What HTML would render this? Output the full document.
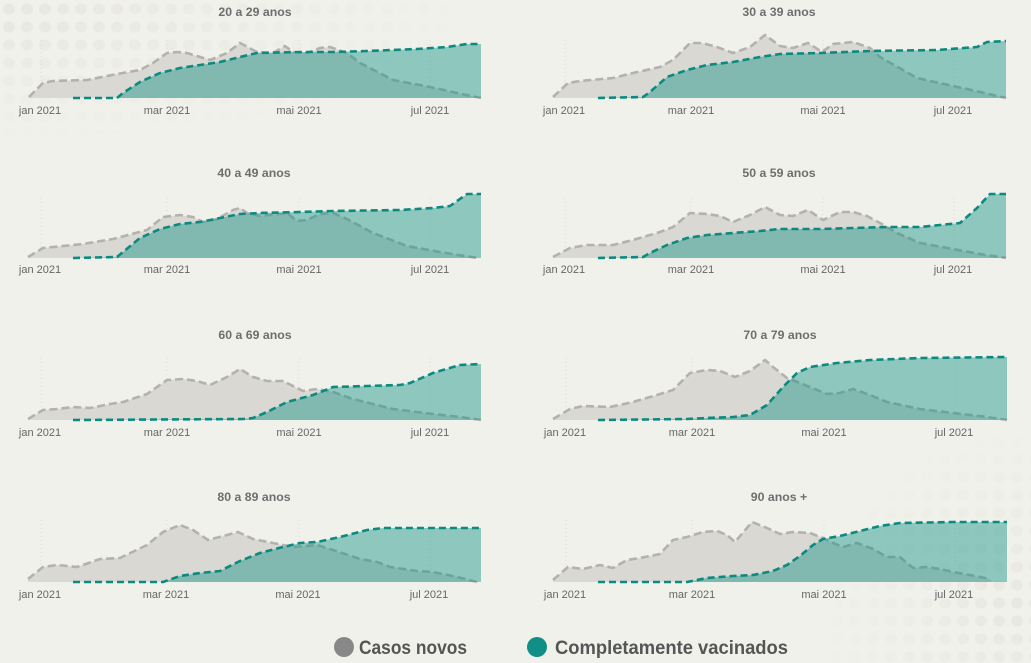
<!DOCTYPE html>
<html><head><meta charset="utf-8"><style>
html,body{margin:0;padding:0;background:#f1f1eb;}
svg{display:block;}
.t{font-family:"Liberation Sans",sans-serif;font-weight:bold;font-size:12.3px;fill:#6e6e6e;text-anchor:middle;}
.k{font-family:"Liberation Sans",sans-serif;font-size:11px;fill:#666;text-anchor:middle;}
.ga{fill:#d9d8d3;stroke:none;}
.gl{fill:none;stroke:#b3b2ae;stroke-width:2.6;stroke-dasharray:8 4;stroke-linejoin:round;}
.ta{fill:rgba(17,145,132,0.44);stroke:none;}
.tl{fill:none;stroke:#0b8a80;stroke-width:2.6;stroke-dasharray:7 4;stroke-linejoin:round;}
.gr{stroke:#dcdcd6;stroke-width:1;stroke-dasharray:1 3;}
.lg{font-family:"Liberation Sans",sans-serif;font-weight:bold;font-size:19px;fill:#555;}
</style></head><body>
<svg width="1031" height="663" viewBox="0 0 1031 663" xmlns="http://www.w3.org/2000/svg">
<defs>
<pattern id="dots" width="18" height="18" patternUnits="userSpaceOnUse">
<ellipse cx="9" cy="9" rx="6" ry="5.5" fill="#e5e5dd"/>
</pattern>
<radialGradient id="fadeTL" cx="0" cy="0" r="1" gradientUnits="userSpaceOnUse" gradientTransform="translate(0 15) scale(470 125)">
<stop offset="0" stop-color="#fff" stop-opacity="0.8"/>
<stop offset="0.5" stop-color="#fff" stop-opacity="0.35"/>
<stop offset="1" stop-color="#fff" stop-opacity="0"/>
</radialGradient>
<radialGradient id="fadeBR" cx="0" cy="0" r="1" gradientUnits="userSpaceOnUse" gradientTransform="translate(1031 610) scale(210 180)">
<stop offset="0" stop-color="#fff" stop-opacity="0.8"/>
<stop offset="0.5" stop-color="#fff" stop-opacity="0.35"/>
<stop offset="1" stop-color="#fff" stop-opacity="0"/>
</radialGradient>
<mask id="mTL"><rect width="1031" height="663" fill="url(#fadeTL)"/></mask>
<mask id="mBR"><rect width="1031" height="663" fill="url(#fadeBR)"/></mask>
</defs>
<rect width="1031" height="663" fill="#f1f1eb"/>
<rect width="1031" height="663" fill="url(#dots)" mask="url(#mTL)"/>
<rect width="1031" height="663" fill="url(#dots)" mask="url(#mBR)"/>

<!-- Chart 1: 20 a 29 -->
<g>
<line class="gr" x1="41" y1="40" x2="41" y2="98"/><line class="gr" x1="167" y1="40" x2="167" y2="98"/><line class="gr" x1="299" y1="40" x2="299" y2="98"/><line class="gr" x1="430" y1="40" x2="430" y2="98"/>
<polygon class="ga" points="29,98 29,97 43,83 53,81 87,80 117,74 140,70 153,63 167,53 177,52 187,53 210,60 227,53 240,43 257,52 273,53 285,46 293,52 307,53 320,48 330,47 347,53 360,63 393,80 430,87 457,93 481,98"/>
<polyline class="gl" points="29,97 43,83 53,81 87,80 117,74 140,70 153,63 167,53 177,52 187,53 210,60 227,53 240,43 257,52 273,53 285,46 293,52 307,53 320,48 330,47 347,53 360,63 393,80 430,87 457,93 481,98"/>
<polygon class="ta" points="73,98 117,98 123,93 140,82 160,73 180,68 200,65 220,62 240,57 257,53 300,52 333,52 367,51 417,49 447,47 467,44 481,44 481,98"/>
<polyline class="tl" points="73,98 117,98 123,93 140,82 160,73 180,68 200,65 220,62 240,57 257,53 300,52 333,52 367,51 417,49 447,47 467,44 481,44"/>
<text class="t" x="255" y="16">20 a 29 anos</text>
<text class="k" x="40" y="114">jan 2021</text><text class="k" x="167" y="114">mar 2021</text><text class="k" x="299" y="114">mai 2021</text><text class="k" x="430" y="114">jul 2021</text>
</g>

<!-- Chart 2: 30 a 39 -->
<g>
<line class="gr" x1="565" y1="40" x2="565" y2="98"/><line class="gr" x1="691" y1="40" x2="691" y2="98"/><line class="gr" x1="823" y1="40" x2="823" y2="98"/><line class="gr" x1="954" y1="40" x2="954" y2="98"/>
<polygon class="ga" points="553,98 553,97 568,83 580,81 613,78 633,73 660,67 673,60 690,43 702,43 717,47 733,53 750,47 765,35 780,46 793,48 808,43 822,52 833,44 853,42 870,48 880,57 917,78 953,86 980,92 1006,98"/>
<polyline class="gl" points="553,97 568,83 580,81 613,78 633,73 660,67 673,60 690,43 702,43 717,47 733,53 750,47 765,35 780,46 793,48 808,43 822,52 833,44 853,42 870,48 880,57 917,78 953,86 980,92 1006,98"/>
<polygon class="ta" points="598,98 643,97 650,92 667,77 687,70 707,65 733,62 760,57 780,54 820,53 870,51 937,50 977,47 987,42 1006,41 1006,98"/>
<polyline class="tl" points="598,98 643,97 650,92 667,77 687,70 707,65 733,62 760,57 780,54 820,53 870,51 937,50 977,47 987,42 1006,41"/>
<text class="t" x="779" y="16">30 a 39 anos</text>
<text class="k" x="564" y="114">jan 2021</text><text class="k" x="691" y="114">mar 2021</text><text class="k" x="823" y="114">mai 2021</text><text class="k" x="953" y="114">jul 2021</text>
</g>

<!-- Chart 3: 40 a 49 -->
<g>
<line class="gr" x1="41" y1="198" x2="41" y2="258"/><line class="gr" x1="167" y1="198" x2="167" y2="258"/><line class="gr" x1="299" y1="198" x2="299" y2="258"/><line class="gr" x1="430" y1="198" x2="430" y2="258"/>
<polygon class="ga" points="28,258 28,257 43,248 53,247 83,244 113,239 147,230 163,217 180,215 193,217 203,222 217,219 233,210 240,208 247,213 260,216 287,213 297,221 307,220 320,214 333,213 347,219 373,233 407,246 440,252 477,258"/>
<polyline class="gl" points="28,257 43,248 53,247 83,244 113,239 147,230 163,217 180,215 193,217 203,222 217,219 233,210 240,208 247,213 260,216 287,213 297,221 307,220 320,214 333,213 347,219 373,233 407,246 440,252 477,258"/>
<polygon class="ta" points="73,258 117,257 123,252 140,238 160,229 180,224 200,222 220,218 240,214 260,213 300,212 333,211 400,210 433,208 450,206 467,194 481,194 481,258"/>
<polyline class="tl" points="73,258 117,257 123,252 140,238 160,229 180,224 200,222 220,218 240,214 260,213 300,212 333,211 400,210 433,208 450,206 467,194 481,194"/>
<text class="t" x="254" y="177">40 a 49 anos</text>
<text class="k" x="40" y="273">jan 2021</text><text class="k" x="167" y="273">mar 2021</text><text class="k" x="299" y="273">mai 2021</text><text class="k" x="430" y="273">jul 2021</text>
</g>

<!-- Chart 4: 50 a 59 -->
<g>
<line class="gr" x1="565" y1="198" x2="565" y2="258"/><line class="gr" x1="691" y1="198" x2="691" y2="258"/><line class="gr" x1="823" y1="198" x2="823" y2="258"/><line class="gr" x1="954" y1="198" x2="954" y2="258"/>
<polygon class="ga" points="553,258 553,257 570,248 587,245 613,245 633,240 660,232 673,227 690,213 707,214 720,216 733,222 750,215 765,207 780,215 793,216 808,210 823,220 840,212 853,212 867,216 880,223 897,233 920,243 953,249 980,254 1006,258"/>
<polyline class="gl" points="553,257 570,248 587,245 613,245 633,240 660,232 673,227 690,213 707,214 720,216 733,222 750,215 765,207 780,215 793,216 808,210 823,220 840,212 853,212 867,216 880,223 897,233 920,243 953,249 980,254 1006,258"/>
<polygon class="ta" points="598,258 643,257 650,253 667,245 687,238 707,235 733,233 760,231 780,229 820,229 853,228 887,227 920,227 960,223 977,208 990,194 1006,194 1006,258"/>
<polyline class="tl" points="598,258 643,257 650,253 667,245 687,238 707,235 733,233 760,231 780,229 820,229 853,228 887,227 920,227 960,223 977,208 990,194 1006,194"/>
<text class="t" x="779" y="177">50 a 59 anos</text>
<text class="k" x="564" y="273">jan 2021</text><text class="k" x="691" y="273">mar 2021</text><text class="k" x="823" y="273">mai 2021</text><text class="k" x="953" y="273">jul 2021</text>
</g>

<!-- Chart 5: 60 a 69 -->
<g>
<line class="gr" x1="41" y1="358" x2="41" y2="420"/><line class="gr" x1="167" y1="358" x2="167" y2="420"/><line class="gr" x1="299" y1="358" x2="299" y2="420"/><line class="gr" x1="430" y1="358" x2="430" y2="420"/>
<polygon class="ga" points="28,420 28,419 43,410 57,409 73,407 90,408 110,404 123,402 147,394 167,380 183,379 197,381 210,385 227,377 240,369 253,377 267,381 283,381 303,391 317,389 333,392 353,399 393,409 433,414 460,417 481,420"/>
<polyline class="gl" points="28,419 43,410 57,409 73,407 90,408 110,404 123,402 147,394 167,380 183,379 197,381 210,385 227,377 240,369 253,377 267,381 283,381 303,391 317,389 333,392 353,399 393,409 433,414 460,417 481,420"/>
<polygon class="ta" points="73,420 243,419 253,418 267,412 287,402 313,395 333,387 367,386 400,385 410,383 433,373 460,365 481,364 481,420"/>
<polyline class="tl" points="73,420 243,419 253,418 267,412 287,402 313,395 333,387 367,386 400,385 410,383 433,373 460,365 481,364"/>
<text class="t" x="255" y="339">60 a 69 anos</text>
<text class="k" x="40" y="436">jan 2021</text><text class="k" x="167" y="436">mar 2021</text><text class="k" x="299" y="436">mai 2021</text><text class="k" x="430" y="436">jul 2021</text>
</g>

<!-- Chart 6: 70 a 79 -->
<g>
<line class="gr" x1="566" y1="358" x2="566" y2="420"/><line class="gr" x1="692" y1="358" x2="692" y2="420"/><line class="gr" x1="824" y1="358" x2="824" y2="420"/><line class="gr" x1="955" y1="358" x2="955" y2="420"/>
<polygon class="ga" points="553,420 553,419 570,409 583,406 610,407 633,402 660,394 673,390 690,373 707,370 720,371 735,377 750,371 765,360 773,367 787,378 800,383 827,394 840,393 853,389 870,395 887,402 920,409 953,413 987,417 1007,420"/>
<polyline class="gl" points="553,419 570,409 583,406 610,407 633,402 660,394 673,390 690,373 707,370 720,371 735,377 750,371 765,360 773,367 787,378 800,383 827,394 840,393 853,389 870,395 887,402 920,409 953,413 987,417 1007,420"/>
<polygon class="ta" points="598,420 687,419 707,418 733,417 750,415 767,405 783,387 797,373 810,367 837,363 870,360 920,358 1007,357 1007,420"/>
<polyline class="tl" points="598,420 687,419 707,418 733,417 750,415 767,405 783,387 797,373 810,367 837,363 870,360 920,358 1007,357"/>
<text class="t" x="780" y="339">70 a 79 anos</text>
<text class="k" x="565" y="436">jan 2021</text><text class="k" x="692" y="436">mar 2021</text><text class="k" x="824" y="436">mai 2021</text><text class="k" x="954" y="436">jul 2021</text>
</g>

<!-- Chart 7: 80 a 89 -->
<g>
<line class="gr" x1="41" y1="520" x2="41" y2="582"/><line class="gr" x1="167" y1="520" x2="167" y2="582"/><line class="gr" x1="299" y1="520" x2="299" y2="582"/><line class="gr" x1="430" y1="520" x2="430" y2="582"/>
<polygon class="ga" points="28,582 28,579 43,567 57,565 77,567 100,559 120,558 147,545 163,532 180,525 193,530 208,540 227,535 238,532 253,539 273,543 293,547 317,545 333,550 360,559 377,562 390,567 417,571 433,572 457,577 477,582"/>
<polyline class="gl" points="28,579 43,567 57,565 77,567 100,559 120,558 147,545 163,532 180,525 193,530 208,540 227,535 238,532 253,539 273,543 293,547 317,545 333,550 360,559 377,562 390,567 417,571 433,572 457,577 477,582"/>
<polygon class="ta" points="73,582 163,582 180,576 200,573 220,571 240,561 260,553 283,547 300,543 317,542 340,537 367,530 383,528 433,528 481,528 481,582"/>
<polyline class="tl" points="73,582 163,582 180,576 200,573 220,571 240,561 260,553 283,547 300,543 317,542 340,537 367,530 383,528 433,528 481,528"/>
<text class="t" x="254" y="501">80 a 89 anos</text>
<text class="k" x="40" y="598">jan 2021</text><text class="k" x="166" y="598">mar 2021</text><text class="k" x="298" y="598">mai 2021</text><text class="k" x="429" y="598">jul 2021</text>
</g>

<!-- Chart 8: 90 anos + -->
<g>
<line class="gr" x1="566" y1="520" x2="566" y2="582"/><line class="gr" x1="692" y1="520" x2="692" y2="582"/><line class="gr" x1="824" y1="520" x2="824" y2="582"/><line class="gr" x1="955" y1="520" x2="955" y2="582"/>
<polygon class="ga" points="553,582 553,580 568,567 583,569 600,565 613,568 627,560 640,558 660,554 673,540 687,537 703,532 717,531 727,535 735,542 752,522 767,528 780,534 793,532 810,533 823,538 833,543 843,547 857,543 873,549 887,557 900,557 913,568 927,567 940,569 953,572 970,575 990,579 992,582"/>
<polyline class="gl" points="553,580 568,567 583,569 600,565 613,568 627,560 640,558 660,554 673,540 687,537 703,532 717,531 727,535 735,542 752,522 767,528 780,534 793,532 810,533 823,538 833,543 843,547 857,543 873,549 887,557 900,557 913,568 927,567 940,569 953,572 970,575 990,579"/>
<polygon class="ta" points="598,582 687,582 707,578 733,576 753,575 773,571 787,565 800,556 813,545 823,539 840,536 860,531 880,526 900,523 953,522 1007,522 1007,582"/>
<polyline class="tl" points="598,582 687,582 707,578 733,576 753,575 773,571 787,565 800,556 813,545 823,539 840,536 860,531 880,526 900,523 953,522 1007,522"/>
<text class="t" x="779" y="501">90 anos +</text>
<text class="k" x="565" y="598">jan 2021</text><text class="k" x="692" y="598">mar 2021</text><text class="k" x="824" y="598">mai 2021</text><text class="k" x="954" y="598">jul 2021</text>
</g>

<!-- Legend -->
<circle cx="344" cy="647" r="10" fill="#888888"/>
<text class="lg" x="359" y="654" textLength="108" lengthAdjust="spacingAndGlyphs">Casos novos</text>
<circle cx="537" cy="647" r="10" fill="#0f8f86"/>
<text class="lg" x="555" y="654" textLength="233" lengthAdjust="spacingAndGlyphs">Completamente vacinados</text>
</svg>
</body></html>
